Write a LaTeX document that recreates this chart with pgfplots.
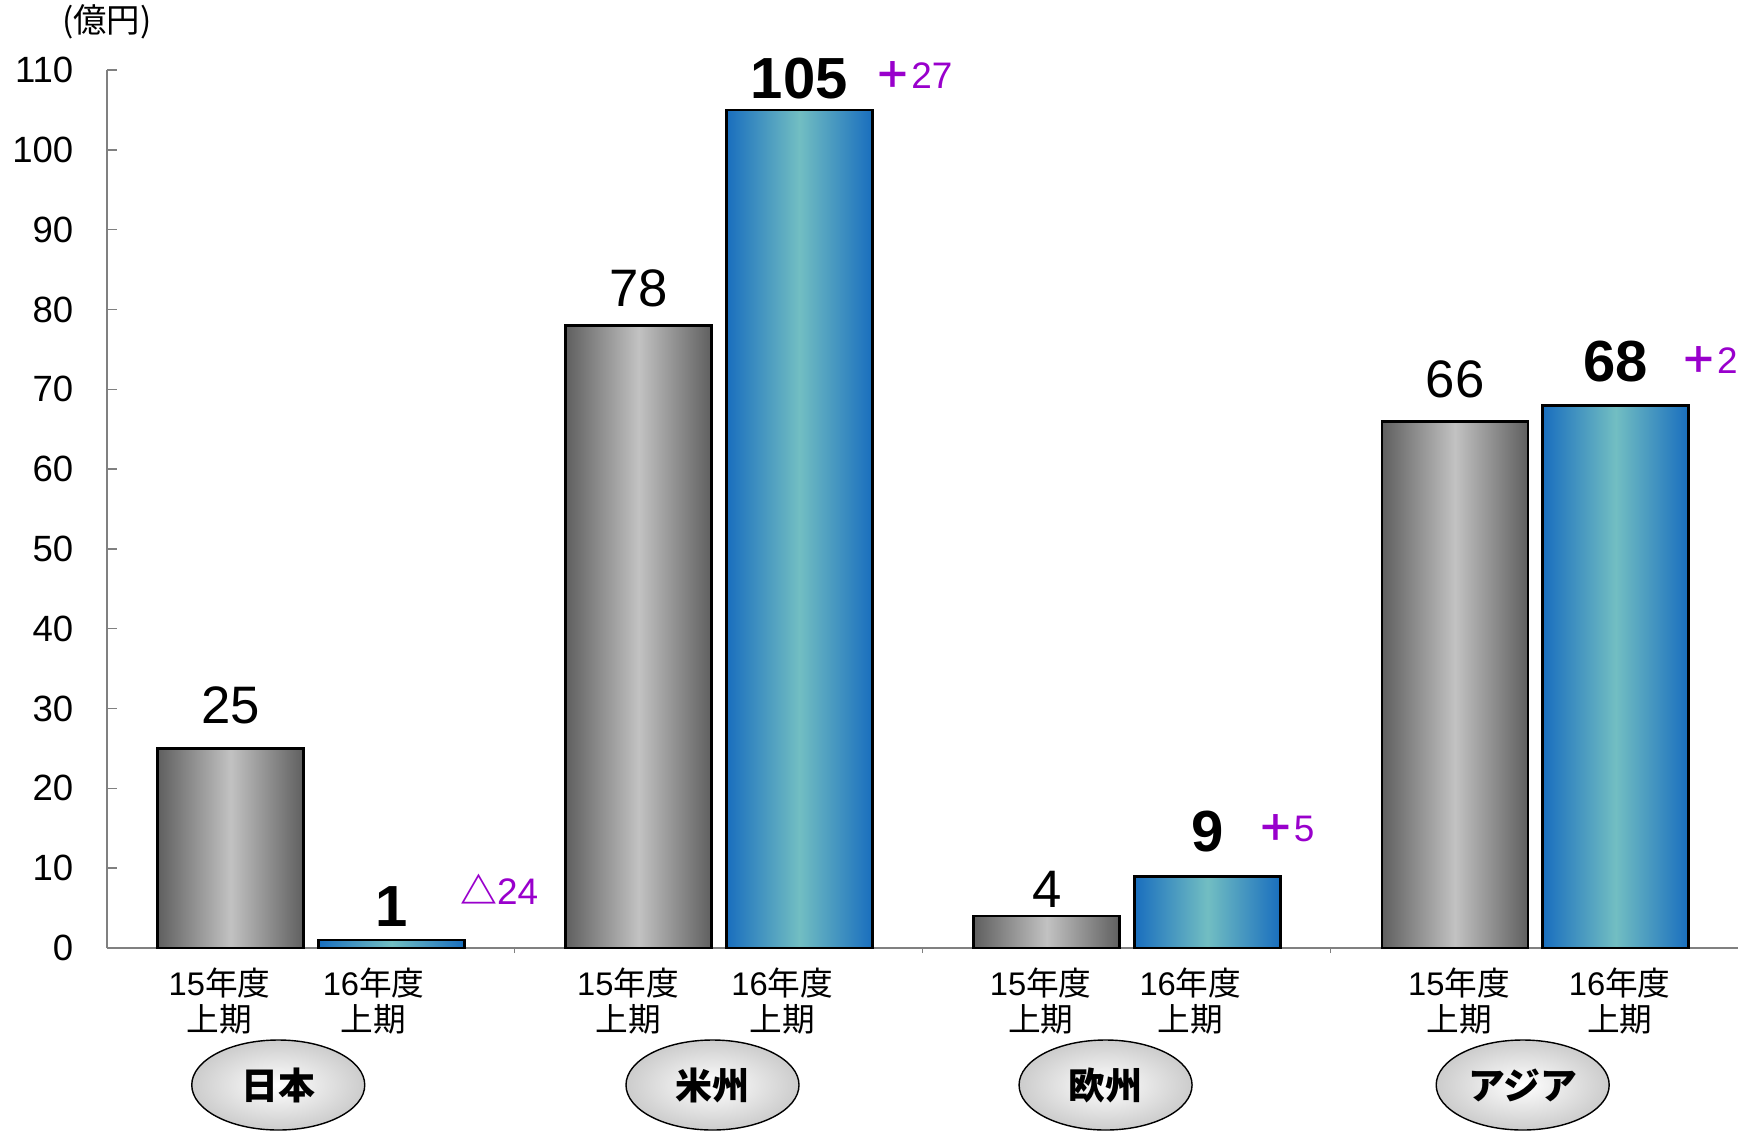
\documentclass[border=0pt]{standalone}
\usepackage{fontspec}
\setmainfont{Liberation Sans}
\newfontfamily\cjk{Noto Sans CJK JP}
\usepackage{pgfplots}
\pgfplotsset{compat=1.18}
\usetikzlibrary{shapes.geometric}
\definecolor{gdark}{RGB}{95,95,95}
\definecolor{glight}{RGB}{194,194,194}
\definecolor{bdark}{RGB}{25,110,190}
\definecolor{blight}{RGB}{114,190,194}
\definecolor{axgray}{RGB}{128,128,128}
\definecolor{purp}{RGB}{153,0,204}

\begin{document}
\begin{tikzpicture}
\useasboundingbox (0,0) rectangle (174.8mm,113.3mm);
\begin{axis}[
  at={(10.7mm,18.5mm)}, anchor=south west,
  scale only axis, width=163.1mm, height=87.8mm,
  xmin=0, xmax=4, ymin=0, ymax=110,
  clip=false,
  /pgf/number format/assume math mode=true,
  axis x line*=bottom, axis y line*=left,
  axis line style={axgray, line width=0.4pt},
  ytick={0,10,...,110},
  tick align=inside,
  major tick length=1mm,
  ytick style={axgray, line width=0.4pt},
  yticklabel style={font=\fontsize{10.4}{12}\selectfont, inner sep=0pt, xshift=-3.3mm},
  xtick={0.276,0.654,1.278,1.656,2.290,2.657,3.316,3.710},
  xticklabels={{15{\cjk 年度}\\{\cjk 上期}},{16{\cjk 年度}\\{\cjk 上期}},
               {15{\cjk 年度}\\{\cjk 上期}},{16{\cjk 年度}\\{\cjk 上期}},
               {15{\cjk 年度}\\{\cjk 上期}},{16{\cjk 年度}\\{\cjk 上期}},
               {15{\cjk 年度}\\{\cjk 上期}},{16{\cjk 年度}\\{\cjk 上期}}},
  xticklabel style={align=center, font=\fontsize{9.3}{10.3}\selectfont, inner sep=0pt, anchor=north, yshift=-0.9mm},
  xtick style={draw=none},
  extra x ticks={1,2,3},
  extra x tick labels={},
  extra x tick style={xtick style={draw=axgray, line width=0.4pt}, major tick length=0.5mm},
  ybar, bar width=14.6mm, bar shift=0pt,
  gbar/.style={ybar, draw=black, line width=0.8pt,
    left color=gdark, right color=gdark, middle color=glight,
    nodes near coords,
    every node near coord/.append style={text=black, font=\fontsize{15}{16}\selectfont, anchor=south, inner sep=0pt, yshift=#1}},
  bbar/.style={ybar, draw=black, line width=0.8pt,
    left color=bdark, right color=bdark, middle color=blight,
    nodes near coords,
    every node near coord/.append style={text=black, font=\bfseries\fontsize{16.5}{18}\selectfont, anchor=south, inner sep=0pt, yshift=#1}},
]
% FY15 H1
\addplot[gbar=2.3mm] coordinates {(0.303,25)};
\addplot[gbar=1.7mm] coordinates {(1.304,78)};
\addplot[gbar=0.7mm] coordinates {(2.305,4)};
\addplot[gbar=2.2mm] coordinates {(3.306,66)};
% FY16 H1
\addplot[bbar=1.2mm] coordinates {(0.698,1)};
\addplot[bbar=0.9mm] coordinates {(1.698,105)};
\addplot[bbar=2.3mm] coordinates {(2.699,9)};
\addplot[bbar=2.2mm] coordinates {(3.700,68)};

\node[text=purp, font=\fontsize{10.5}{12}\selectfont] at (axis cs:0.962,7.4) {{\cjk\bfseries △}24};
\node[text=purp, font=\fontsize{10.5}{12}\selectfont] at (axis cs:1.978,109.4) {{\cjk\bfseries ＋}27};
\node[text=purp, font=\fontsize{10.5}{12}\selectfont] at (axis cs:2.891,15.0) {{\cjk\bfseries ＋}5};
\node[text=purp, font=\fontsize{10.5}{12}\selectfont] at (axis cs:3.929,73.7) {{\cjk\bfseries ＋}2};

\node[font=\cjk\fontsize{9.5}{11}\selectfont] at (rel axis cs:0,1) [yshift=4.8mm] {(億円)};

\tikzset{reg/.style={ellipse, draw=black, line width=0.4pt, inner color=white, outer color=gray!40, inner sep=0pt, minimum width=17.3mm, minimum height=9mm, yshift=-13.7mm, font=\cjk\bfseries\fontsize{10.5}{12}\selectfont}}
\node[reg] at (axis cs:0.420,0) {日本};
\node[reg] at (axis cs:1.485,0) {米州};
\node[reg] at (axis cs:2.449,0) {欧州};
\node[reg] at (axis cs:3.472,0) {アジア};
\end{axis}
\end{tikzpicture}
\end{document}
